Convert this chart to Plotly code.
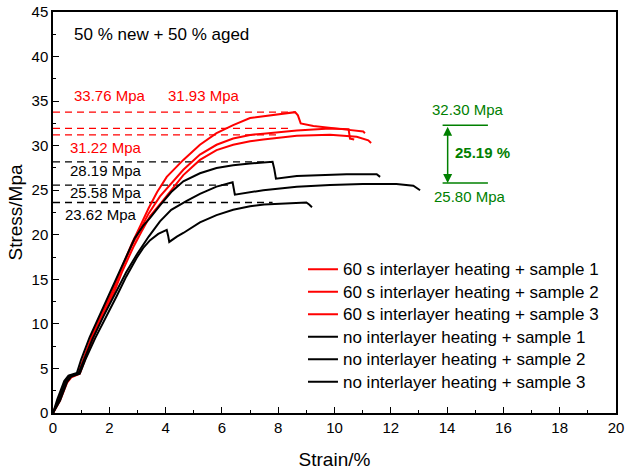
import plotly.graph_objects as go

# ---- stress-strain data (strain in %, stress in MPa) ----
heat1_strain = [0, 0.2, 0.45, 0.6, 0.9, 1.1, 1.4, 1.8, 2.1, 2.4, 2.8, 3.1, 3.4, 3.7, 4.04, 4.63,
                5.22, 5.81, 6.4, 7.0, 7.47, 8.0, 8.6, 8.7, 8.8, 9.25, 9.84, 10.43, 11.02, 11.08]
heat1_stress = [0, 1.5, 3.5, 4.1, 4.4, 6.2, 8.8, 11.6, 13.6, 16.0, 19.0, 21.0, 23.0, 24.8, 26.5, 28.4,
                30.1, 31.4, 32.3, 33.1, 33.3, 33.55, 33.76, 33.4, 32.5, 32.2, 31.96, 31.8, 31.6, 31.4]

heat2_strain = [0, 0.2, 0.45, 0.6, 0.9, 1.1, 1.4, 1.8, 2.1, 2.4, 2.8, 3.1, 3.4, 3.8, 4.63,
                5.22, 5.81, 6.4, 7.0, 7.47, 8.66, 9.84, 10.5, 10.55, 10.7]
heat2_stress = [0, 1.4, 3.4, 4.1, 4.4, 6.1, 8.7, 11.5, 13.5, 15.9, 18.8, 20.6, 22.4, 24.3, 27.3,
                29.0, 30.1, 30.8, 31.2, 31.35, 31.7, 31.93, 31.85, 30.8, 30.7]

heat3_strain = [0, 0.25, 0.5, 0.65, 0.95, 1.15, 1.45, 1.85, 2.15, 2.45, 2.85, 3.15, 3.45, 3.92, 4.63,
                5.22, 5.81, 6.4, 7.0, 7.47, 8.66, 9.84, 10.79, 11.2, 11.3]
heat3_stress = [0, 1.4, 3.4, 4.0, 4.4, 6.1, 8.6, 11.4, 13.4, 15.8, 18.6, 20.4, 22.1, 23.9, 26.7,
                28.4, 29.5, 30.1, 30.5, 30.7, 31.1, 31.22, 31.0, 30.6, 30.3]

none1_strain = [0, 0.15, 0.4, 0.55, 0.85, 1.0, 1.3, 1.7, 2.0, 2.3, 2.6, 2.9, 3.2, 3.45, 3.8, 4.2,
                4.63, 5.22, 5.81, 6.4, 7.0, 7.8, 7.86, 7.92, 8.66, 9.5, 10.43, 11.5, 11.62]
none1_stress = [0, 1.5, 3.6, 4.2, 4.5, 6.0, 8.5, 11.3, 13.3, 15.6, 17.7, 19.6, 21.0, 21.9, 23.3, 24.8,
                26.0, 26.9, 27.5, 27.8, 28.0, 28.19, 27.4, 26.3, 26.6, 26.7, 26.8, 26.8, 26.5]

none2_strain = [0, 0.2, 0.45, 0.6, 0.9, 1.1, 1.4, 1.8, 2.2, 2.6, 3.0, 3.4, 3.8, 4.2, 4.75,
                5.22, 5.81, 6.38, 6.42, 6.46, 7.47, 8.66, 9.84, 11.0, 12.2, 12.8, 13.04]
none2_stress = [0, 1.4, 3.6, 4.2, 4.4, 6.0, 8.3, 10.9, 13.4, 15.8, 17.9, 19.8, 21.5, 22.8, 23.8,
                24.6, 25.4, 25.9, 25.2, 24.5, 25.0, 25.4, 25.6, 25.7, 25.7, 25.5, 25.0]

none3_strain = [0, 0.25, 0.5, 0.65, 0.95, 1.15, 1.5, 1.9, 2.26, 2.6, 2.97, 3.2, 3.45, 3.74, 4.04,
                4.09, 4.13, 4.4, 4.63, 5.22, 5.81, 6.4, 7.0, 7.5, 8.1, 8.7, 9.0, 9.1, 9.2]
none3_stress = [0, 1.4, 3.5, 4.1, 4.4, 6.0, 8.4, 10.8, 13.1, 15.3, 17.4, 18.5, 19.4, 20.1, 20.55,
                19.9, 19.2, 19.8, 20.2, 21.4, 22.2, 22.8, 23.2, 23.4, 23.5, 23.6, 23.62, 23.4, 23.1]

legend_names = [
    "60 s interlayer heating + sample 1",
    "60 s interlayer heating + sample 2",
    "60 s interlayer heating + sample 3",
    "no interlayer heating + sample 1",
    "no interlayer heating + sample 2",
    "no interlayer heating + sample 3",
]

# peak stresses and the strain where each guide line stops
heat_peaks = [33.76, 31.93, 31.22]
heat_guide_end = [8.6, 8.35, 8.1]
none_peaks = [28.19, 25.58, 23.62]
none_guide_end = [7.8, 6.4, 7.8]

heat_mean = 32.30
none_mean = 25.80
gain_text = "25.19 %"

RED = "#FF0000"
BLACK = "#000000"
GREEN = "#008000"
FONT = "Liberation Sans, Arial, sans-serif"

fig = go.Figure()

# dashed peak guide lines
for peak, end in zip(heat_peaks, heat_guide_end):
    fig.add_trace(go.Scatter(x=[0, end], y=[peak, peak], mode="lines",
                             line=dict(color=RED, width=1.3, dash="7px,5px"),
                             showlegend=False, hoverinfo="skip"))
for peak, end in zip(none_peaks, none_guide_end):
    fig.add_trace(go.Scatter(x=[0, end], y=[peak, peak], mode="lines",
                             line=dict(color=BLACK, width=1.3, dash="7px,5px"),
                             showlegend=False, hoverinfo="skip"))

series = [
    (heat1_strain, heat1_stress, RED),
    (heat2_strain, heat2_stress, RED),
    (heat3_strain, heat3_stress, RED),
    (none1_strain, none1_stress, BLACK),
    (none2_strain, none2_stress, BLACK),
    (none3_strain, none3_stress, BLACK),
]
# legend labels are set a little larger than the row pitch of the legend
for (xs, ys, col), name in zip(series, legend_names):
    fig.add_trace(go.Scatter(x=xs, y=ys, mode="lines",
                             name=f'<span style="font-size:17px">{name}</span>',
                             line=dict(color=col, width=2)))

# mean-level bracket
bracket_x = [13.84, 15.45]
for level in (heat_mean, none_mean):
    fig.add_trace(go.Scatter(x=bracket_x, y=[level, level], mode="lines",
                             line=dict(color=GREEN, width=1.5),
                             showlegend=False, hoverinfo="skip"))

annotations = [
    dict(x=0.68, y=42.5, text="50 % new + 50 % aged", color=BLACK, size=17, xanchor="left"),
    dict(x=0.67, y=35.68, text=f"{heat_peaks[0]:.2f} Mpa", color=RED, size=15, xanchor="left"),
    dict(x=4.01, y=35.68, text=f"{heat_peaks[1]:.2f} Mpa", color=RED, size=15, xanchor="left"),
    dict(x=0.54, y=29.77, text=f"{heat_peaks[2]:.2f} Mpa", color=RED, size=15, xanchor="left"),
    dict(x=0.52, y=27.2, text=f"{none_peaks[0]:.2f} Mpa", color=BLACK, size=15, xanchor="left"),
    dict(x=0.52, y=24.77, text=f"{none_peaks[1]:.2f} Mpa", color=BLACK, size=15, xanchor="left"),
    dict(x=0.37, y=22.23, text=f"{none_peaks[2]:.2f} Mpa", color=BLACK, size=15, xanchor="left"),
    dict(x=14.75, y=34.1, text=f"{heat_mean:.2f} Mpa", color=GREEN, size=15, xanchor="center"),
    dict(x=14.8, y=24.25, text=f"{none_mean:.2f} Mpa", color=GREEN, size=15, xanchor="center"),
    dict(x=14.22, y=29.2, text=f"<b>{gain_text}</b>", color=GREEN, size=15, xanchor="left"),
]
fig.update_layout(annotations=[
    dict(x=a["x"], y=a["y"], xref="x", yref="y", text=a["text"], showarrow=False,
         xanchor=a["xanchor"], yanchor="middle",
         font=dict(family=FONT, size=a["size"], color=a["color"]))
    for a in annotations
])

# double-headed arrow between the two mean levels
fig.add_annotation(x=14.02, y=none_mean, ax=14.02, ay=heat_mean,
                   xref="x", yref="y", axref="x", ayref="y",
                   text="", showarrow=True, arrowside="end+start",
                   arrowhead=2, arrowsize=1.2, arrowwidth=1.5, arrowcolor=GREEN,
                   standoff=0, startstandoff=0)

axis_common = dict(
    showline=True, linecolor=BLACK, linewidth=1.5, mirror=True,
    ticks="inside", ticklen=6, tickwidth=1.3, tickcolor=BLACK,
    showgrid=False, zeroline=False, automargin=False,
    tickfont=dict(family=FONT, size=15, color=BLACK),
)

fig.update_xaxes(range=[0, 20], dtick=2, tick0=0,
                 minor=dict(dtick=1, ticks="inside", ticklen=3, tickwidth=1.3, tickcolor=BLACK),
                 title=dict(text="Strain/%", font=dict(family=FONT, size=19, color=BLACK), standoff=18),
                 **axis_common)
fig.update_yaxes(range=[0, 45], dtick=5, tick0=0,
                 minor=dict(dtick=2.5, ticks="inside", ticklen=3, tickwidth=1.3, tickcolor=BLACK),
                 title=dict(text="Stress/Mpa", font=dict(family=FONT, size=19, color=BLACK), standoff=4),
                 **axis_common)

fig.update_layout(
    width=625, height=475,
    margin=dict(l=53, r=9, t=12, b=62),
    paper_bgcolor="white", plot_bgcolor="white",
    font=dict(family=FONT, color=BLACK),
    legend=dict(x=0.444, y=0.399, xanchor="left", yanchor="top",
                bgcolor="rgba(0,0,0,0)", borderwidth=0,
                font=dict(family=FONT, size=15, color=BLACK)),
)

fig.write_html("out.html")
